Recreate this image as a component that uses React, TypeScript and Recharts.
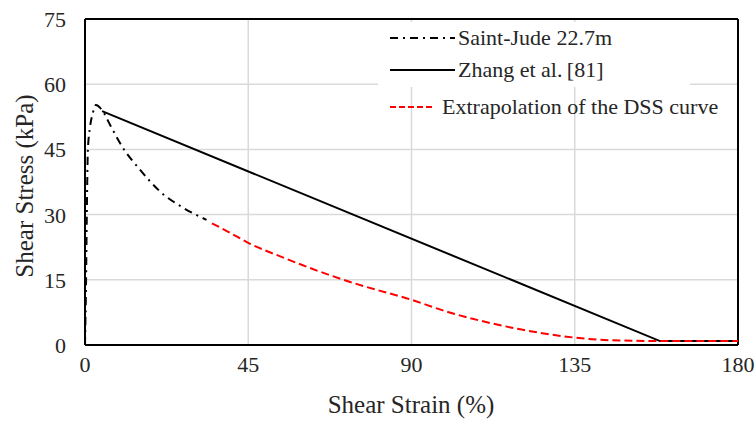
import React from "react";
import {
  LineChart,
  Line,
  XAxis,
  YAxis,
  CartesianGrid,
  ReferenceLine,
  Label,
} from "recharts";

const FONT = "'Liberation Serif', 'Times New Roman', serif";
const TEXT = "#262626";

const xTicks = [0, 45, 90, 135, 180];
const yTicks = [0, 15, 30, 45, 60, 75];

const saintJude = [
  { x: 0, y: 0 },
  { x: 0.3, y: 15 },
  { x: 0.5, y: 30 },
  { x: 0.8, y: 45 },
  { x: 1.4, y: 50.2 },
  { x: 2.2, y: 53.5 },
  { x: 3, y: 55.2 },
  { x: 4.7, y: 54 },
  { x: 7, y: 50.5 },
  { x: 10.5, y: 45.3 },
  { x: 15.2, y: 40.3 },
  { x: 20.7, y: 35.3 },
  { x: 27, y: 31.6 },
  { x: 33.5, y: 28.8 },
];

const zhang = [
  { x: 4.7, y: 53.8 },
  { x: 158.5, y: 0.9 },
  { x: 180, y: 0.9 },
];

const extrapolation = [
  { x: 35, y: 28 },
  { x: 40, y: 25.8 },
  { x: 45, y: 23.5 },
  { x: 55, y: 20 },
  { x: 65, y: 16.8 },
  { x: 75, y: 14 },
  { x: 90, y: 10.4 },
  { x: 100, y: 7.6 },
  { x: 112, y: 5 },
  { x: 120, y: 3.6 },
  { x: 135, y: 1.7 },
  { x: 145, y: 1.1 },
  { x: 160, y: 0.9 },
  { x: 180, y: 0.9 },
];

const legendItems = [
  { name: "Saint-Jude 22.7m", color: "#000", dash: "8 5 2 5", w: 65, textX: 458, cy: 38 },
  { name: "Zhang et al.\u2009[81]", color: "#000", dash: undefined, w: 65, textX: 458, cy: 70 },
  { name: "Extrapolation of the DSS curve", color: "#ff0000", dash: "6 3", w: 44, textX: 442, cy: 107 },
];

const LegendBox = () => (
  <>
    <div
      style={{
        position: "absolute",
        left: 378,
        top: 22,
        width: 312,
        height: 65,
        background: "#fff",
      }}
    />
    <svg
      width={755}
      height={421}
      style={{ position: "absolute", left: 0, top: 0, pointerEvents: "none" }}
    >
      {legendItems.map((it, i) => (
        <g key={i}>
          <line
            x1={390}
            y1={it.cy}
            x2={390 + it.w}
            y2={it.cy}
            stroke={it.color}
            strokeWidth={2.2}
            strokeDasharray={it.dash}
          />
          <text
            x={it.textX}
            y={it.cy + 7}
            fill={TEXT}
            style={{ fontFamily: FONT, fontSize: 22 }}
          >
            {it.name}
          </text>
        </g>
      ))}
    </svg>
  </>
);

const XTick = (props: any) => {
  const { x, y, payload } = props;
  return (
    <text x={x} y={y + 27} textAnchor="middle" fill={TEXT} style={{ fontFamily: FONT, fontSize: 22 }}>
      {payload.value}
    </text>
  );
};

const YTick = (props: any) => {
  const { x, y, payload } = props;
  return (
    <text x={x - 19} y={y + 8} textAnchor="end" fill={TEXT} style={{ fontFamily: FONT, fontSize: 22 }}>
      {payload.value}
    </text>
  );
};

export default function App() {
  return (
    <div style={{ position: "absolute", left: 0, top: 0, fontFamily: FONT }}>
      <LineChart
        width={755}
        height={421}
        margin={{ top: 19, right: 17, bottom: 0, left: 0 }}
        style={{ fontFamily: FONT }}
      >
        <CartesianGrid stroke="#d9d9d9" strokeWidth={1.5} />
        <XAxis
          type="number"
          dataKey="x"
          domain={[0, 180]}
          ticks={xTicks}
          height={76}
          tickLine={false}
          tickSize={0}
          tickMargin={0}
          axisLine={{ stroke: "#000", strokeWidth: 2 }}
          tick={<XTick />}
          allowDataOverflow
        >
          <Label
            content={() => (
              <text x={411} y={413} textAnchor="middle" fill={TEXT} style={{ fontFamily: FONT, fontSize: 25 }}>
                Shear Strain (%)
              </text>
            )}
          />
        </XAxis>
        <YAxis
          type="number"
          domain={[0, 75]}
          ticks={yTicks}
          width={85}
          tickLine={false}
          tickSize={0}
          tickMargin={0}
          axisLine={{ stroke: "#000", strokeWidth: 2 }}
          tick={<YTick />}
        >
          <Label
            content={() => (
              <text
                x={33}
                y={186}
                transform="rotate(-90 33 186)"
                textAnchor="middle"
                fill={TEXT}
                style={{ fontFamily: FONT, fontSize: 25 }}
              >
                Shear Stress (kPa)
              </text>
            )}
          />
        </YAxis>
        <ReferenceLine y={75} stroke="#000" strokeWidth={2} />
        <ReferenceLine x={180} stroke="#000" strokeWidth={2} />
        <Line
          data={zhang}
          dataKey="y"
          name="Zhang et al. [81]"
          stroke="#000"
          strokeWidth={2}
          dot={false}
          type="linear"
          isAnimationActive={false}
        />
        <Line
          data={saintJude}
          dataKey="y"
          name="Saint-Jude 22.7m"
          stroke="#000"
          strokeWidth={2}
          strokeDasharray="8 5 2 5"
          dot={false}
          type="monotone"
          isAnimationActive={false}
        />
        <Line
          data={extrapolation}
          dataKey="y"
          name="Extrapolation of the DSS curve"
          stroke="#ff0000"
          strokeWidth={2}
          strokeDasharray="8 4"
          dot={false}
          type="monotone"
          isAnimationActive={false}
        />
      </LineChart>
      <LegendBox />
    </div>
  );
}
